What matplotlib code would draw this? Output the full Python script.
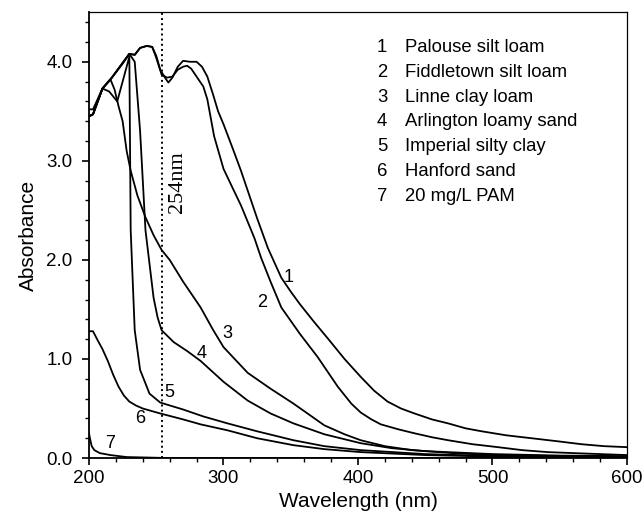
import numpy as np
import matplotlib
matplotlib.use('Agg')
import matplotlib.pyplot as plt
from matplotlib.ticker import MultipleLocator, FormatStrFormatter

plt.rcParams['font.family'] = ['Liberation Sans', 'DejaVu Sans']

# 1 Palouse silt loam
wl1 = [200, 203, 210, 217, 224, 230, 234, 238, 243, 247, 250, 253, 256, 259, 262, 266, 270, 275, 280, 284, 288, 292, 296, 300, 307, 313, 318, 325, 333, 343, 350, 357, 367, 378, 390, 402, 412, 422, 432, 442, 455, 467, 480, 492, 510, 529, 548, 566, 583, 600]
ab1 = [3.45, 3.47, 3.73, 3.84, 3.97, 4.08, 4.07, 4.14, 4.16, 4.15, 4.06, 3.92, 3.85, 3.79, 3.84, 3.95, 4.01, 4.0, 4.0, 3.95, 3.85, 3.68, 3.5, 3.37, 3.12, 2.9, 2.7, 2.42, 2.12, 1.82, 1.68, 1.55, 1.38, 1.2, 1.0, 0.82, 0.68, 0.57, 0.5, 0.45, 0.39, 0.35, 0.3, 0.27, 0.23, 0.2, 0.17, 0.14, 0.12, 0.11]
# 2 Fiddletown silt loam
wl2 = [200, 203, 210, 217, 224, 230, 234, 238, 243, 247, 250, 254, 258, 262, 266, 270, 273, 276, 281, 285, 288, 293, 300, 307, 313, 323, 328, 335, 343, 357, 370, 385, 395, 402, 410, 417, 430, 442, 455, 467, 485, 504, 522, 541, 570, 600]
ab2 = [3.52, 3.52, 3.73, 3.84, 3.97, 4.08, 4.07, 4.14, 4.16, 4.15, 4.04, 3.87, 3.84, 3.85, 3.92, 3.95, 3.96, 3.93, 3.83, 3.75, 3.62, 3.25, 2.92, 2.72, 2.55, 2.22, 2.02, 1.78, 1.52, 1.25, 1.02, 0.72, 0.55, 0.46, 0.39, 0.34, 0.29, 0.25, 0.21, 0.18, 0.14, 0.11, 0.08, 0.06, 0.045, 0.03]
# 3 Linne clay loam
wl3 = [200, 203, 210, 216, 219, 222, 225, 228, 231, 236, 242, 248, 254, 260, 270, 283, 292, 300, 318, 335, 352, 375, 390, 402, 420, 440, 470, 500, 550, 600]
ab3 = [3.45, 3.47, 3.73, 3.82, 3.72, 3.55, 3.4, 3.1, 2.9, 2.65, 2.43, 2.25, 2.1, 2.0, 1.78, 1.52, 1.3, 1.12, 0.86, 0.7, 0.55, 0.33, 0.24, 0.18, 0.12, 0.08, 0.05, 0.03, 0.02, 0.01]
# 4 Arlington loamy sand
wl4 = [200, 203, 210, 217, 225, 230, 234, 238, 242, 245, 248, 251, 254, 263, 273, 283, 300, 318, 335, 352, 375, 402, 425, 450, 500, 550, 600]
ab4 = [3.45, 3.47, 3.73, 3.84, 3.98, 4.08, 4.0, 3.3, 2.3, 1.96, 1.62, 1.42, 1.29, 1.17, 1.08, 0.98, 0.77, 0.58, 0.45, 0.35, 0.24, 0.15, 0.1, 0.07, 0.04, 0.025, 0.02]
# 5 Imperial silty clay
wl5 = [200, 203, 210, 215, 221, 225, 230, 231, 232, 234, 238, 245, 253, 270, 285, 303, 325, 352, 375, 402, 450, 500, 600]
ab5 = [3.45, 3.47, 3.73, 3.7, 3.6, 3.8, 4.05, 2.3, 1.96, 1.29, 0.89, 0.65, 0.56, 0.49, 0.42, 0.35, 0.27, 0.18, 0.12, 0.08, 0.04, 0.02, 0.01]
# 6 Hanford sand
wl6 = [200, 203, 206, 210, 214, 218, 222, 226, 230, 235, 240, 253, 270, 283, 303, 325, 352, 375, 402, 450, 500, 600]
ab6 = [1.28, 1.28, 1.2, 1.1, 0.98, 0.84, 0.72, 0.63, 0.57, 0.53, 0.5, 0.45, 0.39, 0.34, 0.28, 0.2, 0.13, 0.09, 0.06, 0.03, 0.015, 0.005]
# 7 20 mg/L PAM
wl7 = [200, 200.7, 202, 204, 208, 216, 228, 260, 600]
ab7 = [0.25, 0.2, 0.12, 0.08, 0.05, 0.03, 0.01, 0.0, 0.0]

legend_names = ['Palouse silt loam', 'Fiddletown silt loam', 'Linne clay loam',
                'Arlington loamy sand', 'Imperial silty clay', 'Hanford sand', '20 mg/L PAM']
label_x = [348.5, 329, 303, 284, 260, 238, 216]
label_y = [1.82, 1.57, 1.26, 1.06, 0.66, 0.40, 0.15]

fig = plt.figure(figsize=(6.43, 5.32), dpi=100)
ax = fig.add_axes([0.1384, 0.139, 0.8367, 0.838])

curves = [(wl1, ab1), (wl2, ab2), (wl3, ab3), (wl4, ab4), (wl5, ab5), (wl6, ab6), (wl7, ab7)]
for wl, ab in curves:
    ax.plot(wl, ab, color='black', lw=1.3)

ax.axvline(254, color='black', ls=':', lw=1.4)
ax.text(266, 2.79, '254nm', family=['Liberation Serif'], fontsize=16, rotation=90,
        ha='center', va='center')

for i in range(7):
    ax.text(label_x[i], label_y[i], str(i + 1), fontsize=13, ha='center', va='center')
    ax.text(0.545, 0.920 - i * 0.0554, str(i + 1), transform=ax.transAxes,
            fontsize=13.3, ha='center', va='center')
    ax.text(0.588, 0.920 - i * 0.0554, legend_names[i], transform=ax.transAxes,
            fontsize=13.3, ha='left', va='center')

ax.set_xlim(200, 600)
ax.set_ylim(0, 4.5)
ax.xaxis.set_major_locator(MultipleLocator(100))
ax.xaxis.set_minor_locator(MultipleLocator(20))
ax.yaxis.set_major_locator(MultipleLocator(1))
ax.yaxis.set_minor_locator(MultipleLocator(0.2))
ax.yaxis.set_major_formatter(FormatStrFormatter('%.1f'))
ax.tick_params(which='both', direction='out', labelsize=13.5, top=False, right=False)
ax.tick_params(axis='y', which='major', pad=7)
ax.tick_params(which='major', length=5, width=1.2)
ax.tick_params(which='minor', length=3, width=1)
for s in ['left', 'bottom']:
    ax.spines[s].set_linewidth(1.3)
for s in ['top', 'right']:
    ax.spines[s].set_linewidth(0.9)

ax.set_xlabel('Wavelength (nm)', fontsize=15)
ax.set_ylabel('Absorbance', fontsize=15, labelpad=6)

fig.savefig('out.png', dpi=100)
